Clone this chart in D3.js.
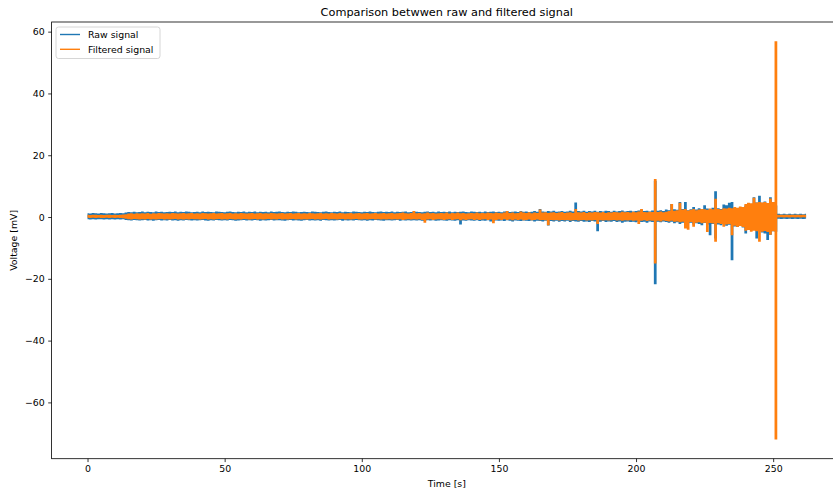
<!DOCTYPE html>
<html><head><meta charset="utf-8">
<script src="https://cdn.jsdelivr.net/npm/d3@7"></script>
<style>
body{margin:0;background:#fff}
svg{display:block}
text{font-family:"DejaVu Sans",sans-serif;fill:#000}
</style>
</head><body>
<svg id="chart" width="833" height="494"></svg>
<script>
// ---- data: per-second high / low envelope of each signal ----
const rawHi = [
1.0,0.9,1.1,1.0,0.9,1.1,1.0,0.9,1.0,1.1,
0.9,1.0,1.1,1.0,1.2,1.4,1.3,1.5,1.3,1.4,
1.6,1.3,1.5,1.4,1.3,1.6,1.4,1.5,1.3,1.4,
1.5,1.4,1.6,1.3,1.5,1.4,1.6,1.5,1.3,1.4,
1.5,1.3,1.6,1.4,1.5,1.4,1.3,1.6,1.5,1.4,
1.3,1.5,1.6,1.4,1.3,1.5,1.4,1.6,1.3,1.5,
1.4,1.6,1.3,1.5,1.4,1.5,1.3,1.6,1.4,1.5,
1.6,1.4,1.3,1.5,1.4,1.6,1.5,1.3,1.4,1.5,
1.4,1.3,1.6,1.5,1.4,1.3,1.5,1.6,1.4,1.3,
1.5,1.4,1.6,1.3,1.5,1.4,1.3,1.6,1.5,1.4,
1.3,1.5,1.4,1.6,1.4,1.3,1.5,1.6,1.4,1.5,
1.4,1.6,1.3,1.5,1.4,1.5,1.6,1.3,1.4,1.6,
1.5,1.4,1.3,1.5,1.6,1.4,1.5,1.3,1.6,1.4,
1.5,1.4,1.6,1.3,1.5,1.4,1.5,1.6,1.4,1.3,
1.6,1.5,1.4,1.5,1.3,1.6,1.4,1.5,1.6,1.4,
1.5,1.3,1.6,1.7,1.4,1.5,1.6,1.4,1.7,1.5,
1.6,1.4,1.5,1.7,1.5,2.4,1.6,1.5,1.7,1.6,
1.8,1.5,1.6,1.7,1.5,1.6,1.8,1.6,4.5,1.7,
1.6,1.8,1.5,1.7,1.6,1.8,1.5,1.7,1.6,1.8,
1.7,1.5,1.8,1.6,1.7,1.9,1.6,1.7,1.8,1.6,
1.7,1.9,2.2,1.7,1.8,1.6,1.9,11.5,1.8,2.0,
1.7,2.2,2.0,4.0,2.3,2.1,4.6,2.4,4.6,2.0,
2.3,3.0,2.2,2.6,2.4,3.6,2.5,2.2,2.8,8.1,
2.6,2.4,3.8,3.6,4.4,4.6,2.8,2.6,3.0,2.7,
3.5,4.2,4.0,6.2,4.5,6.7,4.4,4.8,3.8,6.2,
4.6,3.5,0.8,0.7,0.8,0.7,0.8,0.7,0.8,0.7,
0.8,0.7,0.8];
const rawLo = [
-0.5,-0.6,-0.5,-0.6,-0.5,-0.5,-0.6,-0.5,-0.6,-0.5,
-0.6,-0.5,-0.6,-0.5,-0.7,-0.8,-0.9,-0.7,-0.8,-0.9,
-0.8,-0.7,-0.9,-0.8,-1.0,-0.8,-0.7,-0.9,-0.8,-0.9,
-0.7,-0.9,-0.8,-1.0,-0.8,-0.9,-0.7,-0.8,-0.9,-0.8,
-0.9,-0.8,-0.7,-0.9,-1.0,-0.8,-0.9,-0.7,-0.8,-0.9,
-0.8,-0.9,-0.7,-0.8,-1.0,-0.9,-0.8,-0.7,-0.9,-0.8,
-0.9,-0.7,-0.8,-1.0,-0.8,-0.9,-0.8,-0.7,-0.9,-0.8,
-0.8,-0.9,-1.0,-0.8,-0.7,-0.9,-0.8,-0.9,-1.0,-0.8,
-0.7,-0.9,-0.8,-0.9,-0.8,-1.0,-0.7,-0.8,-0.9,-0.8,
-0.9,-0.8,-0.7,-1.0,-0.8,-0.9,-0.8,-0.9,-0.7,-0.8,
-0.9,-0.8,-1.0,-0.8,-0.9,-0.7,-0.8,-0.9,-1.0,-0.8,
-0.8,-0.9,-0.8,-0.7,-1.0,-0.8,-0.9,-0.8,-0.9,-0.8,
-0.9,-0.8,-1.0,-1.1,-0.8,-0.9,-0.8,-1.0,-0.9,-0.8,
-0.9,-1.0,-0.8,-0.9,-1.0,-0.8,-2.2,-0.9,-1.0,-0.8,
-0.9,-1.0,-0.8,-1.1,-0.9,-1.0,-0.8,-1.2,-1.1,-0.9,
-1.0,-0.9,-1.1,-0.8,-1.0,-1.2,-0.9,-1.0,-1.1,-0.9,
-1.0,-1.1,-0.9,-1.2,-1.0,-1.1,-1.2,-1.0,-2.5,-1.1,
-1.2,-1.0,-1.3,-1.1,-1.2,-1.0,-1.4,-1.1,-1.2,-1.3,
-1.1,-1.3,-1.2,-1.4,-1.1,-1.2,-4.4,-1.3,-1.1,-1.4,
-1.2,-1.3,-1.1,-1.4,-1.2,-1.6,-1.3,-1.2,-1.4,-1.3,
-1.5,-1.2,-1.4,-1.3,-1.6,-1.2,-1.4,-21.5,-1.3,-1.5,
-1.2,-1.4,-1.6,-1.3,-1.8,-1.5,-2.0,-1.6,-2.4,-1.8,
-1.6,-2.2,-1.8,-2.0,-2.4,-1.7,-2.2,-5.7,-2.0,-6.7,
-2.2,-2.4,-2.0,-2.6,-2.3,-13.8,-2.8,-3.0,-2.6,-3.2,
-5.1,-3.6,-4.0,-3.8,-6.7,-4.2,-4.8,-5.1,-7.2,-5.5,
-4.4,-4.5,-0.3,-0.4,-0.3,-0.4,-0.3,-0.4,-0.3,-0.4,
-0.3,-0.4,-0.3];
const filtHi = [
0.5,0.4,0.5,0.5,0.4,0.5,0.4,0.5,0.5,0.4,
0.5,0.4,0.5,0.6,0.7,0.9,1.0,0.8,1.0,0.9,
1.0,0.9,1.1,0.8,1.0,0.9,1.1,1.0,0.9,1.0,
0.9,1.1,1.0,0.9,1.0,1.1,0.9,1.0,1.1,0.9,
1.0,0.9,1.1,1.0,0.9,1.0,1.1,0.9,1.0,1.1,
0.9,1.0,1.1,0.9,1.0,0.9,1.1,1.0,0.9,1.0,
1.1,0.9,1.0,1.1,0.9,1.0,0.9,1.1,1.0,0.9,
1.0,1.1,0.9,1.0,1.1,0.9,1.0,1.1,0.9,1.0,
0.9,1.1,1.0,0.9,1.0,1.1,0.9,1.0,0.9,1.1,
1.0,0.9,1.1,1.0,0.9,1.0,1.1,0.9,1.0,1.1,
0.9,1.0,1.1,0.9,1.0,1.1,0.9,1.0,1.1,0.9,
1.0,1.1,0.9,1.0,1.1,1.2,1.0,0.9,1.1,1.7,
1.0,1.1,0.9,1.0,1.2,1.0,1.1,0.9,1.0,1.1,
1.0,1.2,0.9,1.1,1.0,1.2,1.0,1.1,0.9,1.0,
1.1,1.0,1.2,1.0,1.1,1.0,1.2,1.1,1.0,1.2,
1.1,1.0,1.2,1.7,1.1,1.2,1.0,1.1,1.6,1.2,
1.1,1.3,1.0,1.2,1.1,2.2,1.2,1.3,1.1,1.2,
1.3,1.1,1.2,1.4,1.1,1.2,1.3,1.1,2.4,1.3,
1.2,1.4,1.1,1.3,1.2,1.4,1.3,1.2,1.4,1.1,
1.3,1.2,1.4,1.3,1.2,1.5,1.3,1.4,1.2,1.5,
1.3,1.6,2.4,1.4,1.3,1.5,1.4,12.1,1.4,1.6,
1.3,1.5,1.7,4.0,1.8,2.0,4.4,2.2,2.4,1.9,
2.1,2.4,2.0,2.2,2.4,2.3,2.1,2.5,2.3,5.7,
2.4,2.2,2.6,2.5,2.8,2.6,3.0,2.8,3.2,3.0,
4.0,4.4,4.2,6.0,4.5,4.6,4.5,4.6,4.3,5.8,
4.6,56.7,0.55,0.5,0.55,0.5,0.55,0.5,0.55,0.5,
0.55,0.5,0.55];
const filtLo = [
0.0,-0.1,0.0,-0.1,0.0,-0.1,-0.1,0.0,-0.1,0.0,
-0.1,0.0,-0.1,-0.2,-0.3,-0.5,-0.6,-0.4,-0.5,-0.6,
-0.5,-0.6,-0.4,-0.6,-0.5,-0.6,-0.5,-0.4,-0.6,-0.5,
-0.6,-0.5,-0.4,-0.6,-0.5,-0.6,-0.5,-0.6,-0.4,-0.5,
-0.5,-0.6,-0.5,-0.4,-0.6,-0.5,-0.6,-0.5,-0.4,-0.6,
-0.5,-0.6,-0.4,-0.5,-0.6,-0.5,-0.6,-0.4,-0.5,-0.6,
-0.5,-0.4,-0.6,-0.5,-0.6,-0.5,-0.4,-0.6,-0.5,-0.6,
-0.4,-0.6,-0.5,-0.6,-0.5,-0.4,-0.6,-0.5,-0.6,-0.5,
-0.6,-0.5,-0.4,-0.6,-0.5,-0.6,-0.5,-0.4,-0.6,-0.5,
-0.5,-0.6,-0.5,-0.4,-0.6,-0.5,-0.6,-0.5,-0.4,-0.6,
-0.6,-0.5,-0.6,-0.5,-0.4,-0.6,-0.5,-0.6,-0.5,-0.6,
-0.5,-0.6,-0.5,-0.6,-0.5,-0.7,-0.6,-0.5,-0.6,-0.5,
-0.6,-0.5,-0.7,-1.6,-0.6,-0.5,-0.7,-0.6,-0.5,-0.6,
-0.7,-0.6,-0.5,-0.7,-0.6,-0.5,-0.8,-0.6,-0.7,-0.6,
-0.5,-0.7,-0.6,-0.7,-0.6,-0.5,-0.7,-0.6,-1.8,-0.7,
-0.6,-0.7,-0.5,-0.7,-0.6,-0.8,-0.6,-0.7,-0.6,-0.8,
-0.7,-0.6,-0.8,-0.7,-0.6,-0.8,-0.7,-0.8,-2.4,-0.7,
-0.8,-0.7,-0.9,-0.7,-0.8,-0.7,-0.9,-0.8,-0.7,-0.9,
-0.8,-0.7,-0.9,-0.8,-0.9,-0.7,-2.0,-0.8,-0.9,-0.8,
-0.9,-0.8,-0.7,-0.9,-0.8,-1.0,-0.8,-0.9,-0.8,-1.0,
-0.9,-2.0,-1.0,-0.8,-1.1,-0.9,-1.0,-14.8,-1.0,-1.2,
-0.9,-1.1,-1.2,-1.0,-1.3,-1.2,-1.5,-1.3,-3.5,-3.9,
-1.4,-2.9,-1.6,-1.5,-1.8,-1.6,-4.6,-1.7,-1.9,-7.8,
-1.8,-2.0,-2.9,-2.2,-2.0,-5.7,-2.6,-3.0,-2.7,-3.0,
-4.2,-4.0,-4.5,-4.2,-4.4,-7.8,-4.5,-4.3,-4.6,-5.5,
-4.4,-71.8,0.1,0.15,0.1,0.15,0.1,0.15,0.1,0.15,
0.1,0.15,0.1];
const seconds = d3.range(rawHi.length);          // sample times [s]
const xTicks = [0, 50, 100, 150, 200, 250];
const yTicks = [-60, -40, -20, 0, 20, 40, 60];
const seriesNames = ["Raw signal", "Filtered signal"];
const seriesColors = ["#1f77b4", "#ff7f0e"];
const titleText = "Comparison betwwen raw and filtered signal";
const xLabel = "Time [s]";
const yLabel = "Voltage [mV]";

const series = [
  seconds.map((t, i) => ({ t, hi: rawHi[i], lo: rawLo[i] })),
  seconds.map((t, i) => ({ t, hi: filtHi[i], lo: filtLo[i] }))
];

const svg = d3.select("#chart");
const L = 51.6, R = 842, T = 22, B = 458.7;
const halfLW = 0.7; // half of the plotted line width (px)

const [x0, x1] = d3.extent(seconds);
const y0 = d3.min(series.flat(), d => d.lo), y1 = d3.max(series.flat(), d => d.hi);
const px = (x1 - x0) * 0.05, py = (y1 - y0) * 0.05;
const x = d3.scaleLinear().domain([x0 - px, x1 + px]).range([L, R]);
const y = d3.scaleLinear().domain([y0 - py, y1 + py]).range([B, T]);

svg.append("rect").attr("width", 833).attr("height", 494).attr("fill", "#fff");

// dense signal drawn as its per-second min/max envelope
const area = d3.area().curve(d3.curveStep)
  .x(d => x(d.t)).y0(d => y(d.lo) + halfLW).y1(d => y(d.hi) - halfLW);
series.forEach((s, i) => {
  svg.append("path").datum(s).attr("d", area)
    .attr("fill", seriesColors[i]).attr("stroke", "none");
});

// axes
const fs = 9.4;
const gx = svg.append("g").attr("transform", `translate(0,${B})`)
  .call(d3.axisBottom(x).tickValues(xTicks).tickSize(3.4).tickPadding(3.4).tickFormat(d3.format("d")));
const gy = svg.append("g").attr("transform", `translate(${L},0)`)
  .call(d3.axisLeft(y).tickValues(yTicks).tickSize(3.4).tickPadding(3.4).tickFormat(d3.format("d")));
[gx, gy].forEach(g => {
  g.select(".domain").remove();
  g.selectAll("line").attr("stroke", "#000").attr("stroke-width", 0.8);
  g.selectAll("text").attr("font-size", fs).attr("font-family", "DejaVu Sans").attr("fill", "#000");
});

// spines
svg.append("rect").attr("x", L).attr("y", T).attr("width", R - L).attr("height", B - T)
  .attr("fill", "none").attr("stroke", "#000").attr("stroke-width", 0.8);

// labels
svg.append("text").attr("x", (L + R) / 2).attr("y", 16).attr("text-anchor", "middle")
  .attr("font-size", 11.3).text(titleText);
svg.append("text").attr("x", (L + R) / 2).attr("y", 486.5).attr("text-anchor", "middle")
  .attr("font-size", fs).text(xLabel);
svg.append("text").attr("transform", `translate(17,${(T + B) / 2}) rotate(-90)`)
  .attr("text-anchor", "middle").attr("font-size", fs).text(yLabel);

// legend
const lg = svg.append("g").attr("transform", "translate(56,27)");
lg.append("rect").attr("x", 0).attr("y", 0).attr("width", 104).attr("height", 31.5)
  .attr("rx", 2.5).attr("fill", "#fff").attr("fill-opacity", 0.8)
  .attr("stroke", "#cccccc").attr("stroke-width", 0.8);
seriesNames.forEach((n, i) => {
  const yy = 7.5 + i * 14.8;
  lg.append("line").attr("x1", 4).attr("x2", 24).attr("y1", yy).attr("y2", yy)
    .attr("stroke", seriesColors[i]).attr("stroke-width", 1.4);
  lg.append("text").attr("x", 32).attr("y", yy + 3.4).attr("font-size", fs).text(n);
});
</script>
</body></html>
